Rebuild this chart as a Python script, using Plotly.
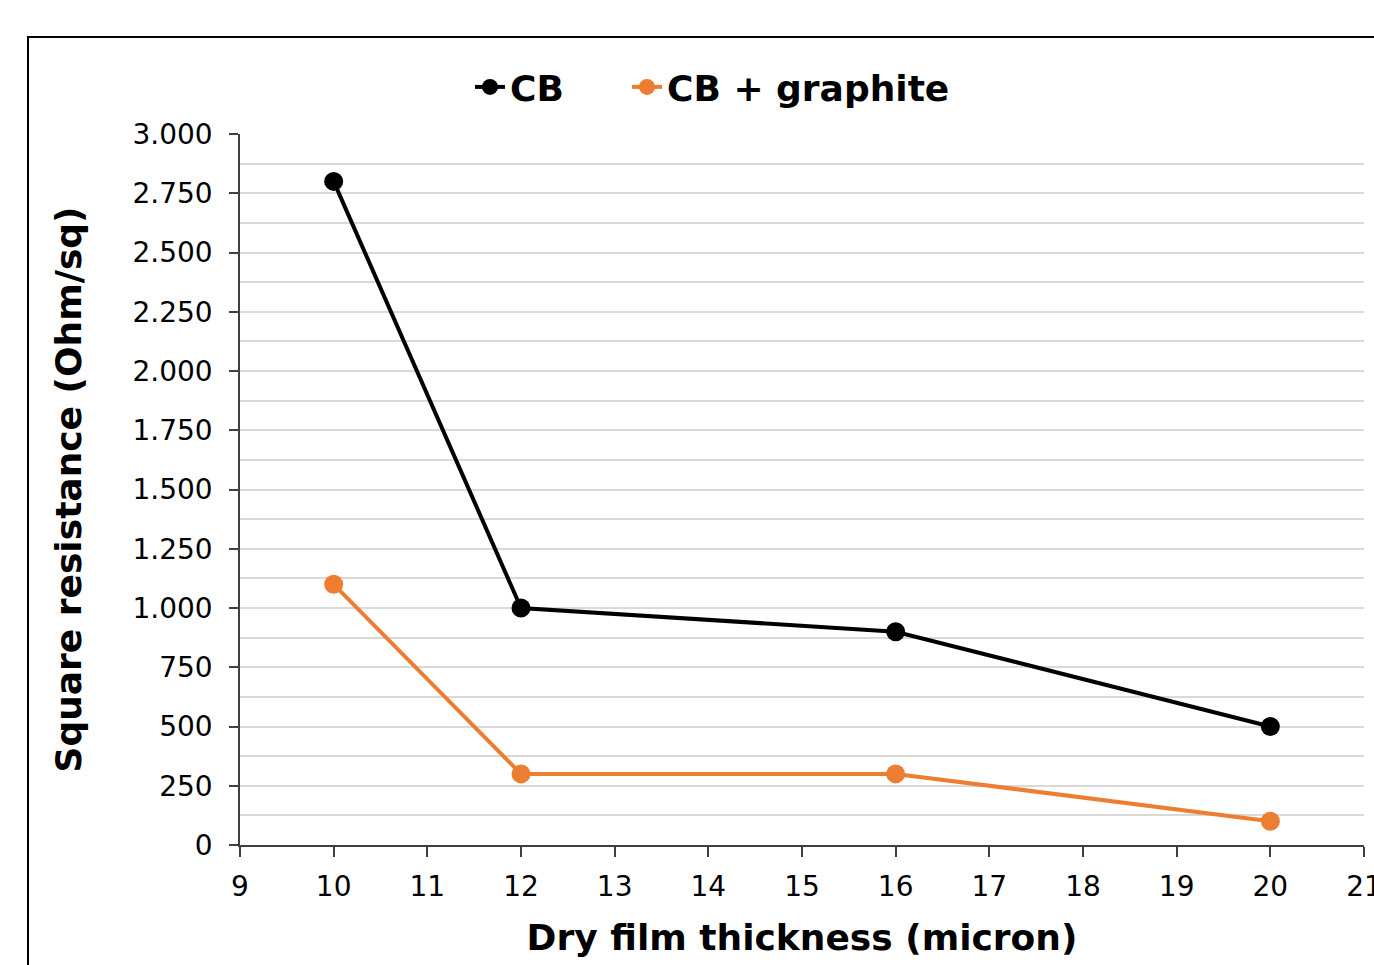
import plotly.graph_objects as go

thickness = [10, 12, 16, 20]
cb = [2800, 1000, 900, 500]
cb_graphite = [1100, 300, 300, 100]
series_names = ["CB", "CB + graphite"]
colors = ["#000000", "#ED7D31"]
legend_ids = ["legend", "legend2"]

FONT = "Century Gothic, DejaVu Sans, sans-serif"

fig = go.Figure()
for name, vals, col, lg in zip(series_names, [cb, cb_graphite], colors, legend_ids):
    fig.add_trace(go.Scatter(
        x=thickness, y=vals, name=name, mode="lines+markers",
        line=dict(color=col, width=4),
        marker=dict(color=col, size=19),
        legend=lg,
    ))

W, H = 1374, 965
L, R, T, B = 240, 10, 134, 120
pw, ph = W - L - R, H - T - B

legend_font = dict(size=36, family=FONT, weight="bold")

fig.update_layout(
    width=W, height=H,
    margin=dict(l=L, r=R, t=T, b=B, autoexpand=False),
    paper_bgcolor="white", plot_bgcolor="white",
    separators=",.",
    font=dict(family=FONT, color="#000000"),
    showlegend=True,
    legend=dict(
        orientation="h", x=(470 - L) / pw, xanchor="left",
        y=(H - B - 87) / ph, yanchor="middle", font=legend_font,
    ),
    legend2=dict(
        orientation="h", x=(627 - L) / pw, xanchor="left",
        y=(H - B - 87) / ph, yanchor="middle", font=legend_font,
    ),
    xaxis=dict(
        range=[9, 21], dtick=1, tick0=9, automargin=False,
        showgrid=False, zeroline=False,
        showline=True, linecolor="#404040", linewidth=1.5,
        ticks="outside", ticklen=10, tickcolor="#404040", tickwidth=1.5,
        tickfont=dict(size=28, family=FONT),
        ticklabelstandoff=6, ticklabeloverflow="allow",
        title=dict(text="Dry film thickness (micron)", standoff=22,
                   font=dict(size=36, family=FONT, weight="bold")),
    ),
    yaxis=dict(
        range=[0, 3000], dtick=250, tick0=0, tickformat=",", automargin=False,
        showgrid=True, gridcolor="#d9d9d9", gridwidth=1.5,
        minor=dict(dtick=125, showgrid=True, gridcolor="#d9d9d9", gridwidth=1.5, ticks=""),
        zeroline=False,
        showline=True, linecolor="#404040", linewidth=1.5,
        ticks="outside", ticklen=9, tickcolor="#404040", tickwidth=1.5,
        tickfont=dict(size=28, family=FONT),
        ticklabelstandoff=11,
        title=dict(text="Square resistance (Ohm/sq)", standoff=40,
                   font=dict(size=36, family=FONT, weight="bold")),
    ),
)

fig.add_shape(
    type="rect", xref="paper", yref="paper",
    x0=(28 - L) / pw, x1=1.2, y0=-0.5, y1=(H - B - 37) / ph,
    line=dict(color="#000000", width=2), fillcolor="rgba(0,0,0,0)",
    layer="below",
)

fig.write_html("out.html")
